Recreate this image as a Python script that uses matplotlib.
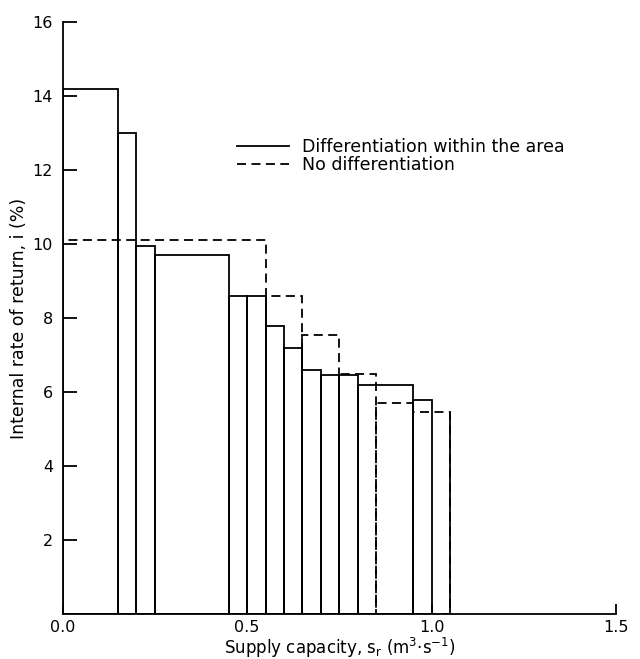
import matplotlib.pyplot as plt
from matplotlib.lines import Line2D

# differentiation within the area: bar left edges, widths, heights (%)
dif_left = [0.0, 0.15, 0.20, 0.25, 0.45, 0.50, 0.55, 0.60, 0.65, 0.70, 0.75, 0.80, 0.95]
dif_width = [0.15, 0.05, 0.05, 0.20, 0.05, 0.05, 0.05, 0.05, 0.05, 0.05, 0.05, 0.15, 0.05]
dif_height = [14.2, 13.0, 9.95, 9.7, 8.6, 8.6, 7.8, 7.2, 6.6, 6.45, 6.45, 6.2, 5.8]

# no differentiation
nd_left = [0.0, 0.55, 0.65, 0.75, 0.85, 0.95]
nd_width = [0.55, 0.10, 0.10, 0.10, 0.10, 0.10]
nd_height = [10.1, 8.6, 7.55, 6.5, 5.7, 5.45]

plt.rcParams['font.family'] = 'DejaVu Sans'
dash = (0, (5, 3))
lw = 1.3

fig = plt.figure(figsize=(6.4, 6.59), dpi=100)
ax = fig.add_axes([0.098, 0.068, 0.8645, 0.8986])

ax.bar(nd_left, nd_height, nd_width, align='edge', fill=False,
       edgecolor='black', linestyle=dash, lw=lw)
ax.bar(dif_left, dif_height, dif_width, align='edge', fill=False,
       edgecolor='black', lw=lw)
ax.vlines(nd_left[-1] + nd_width[-1], 0, nd_height[-1], color='black', lw=lw)

ax.set_xlim(0, 1.5)
ax.set_ylim(0, 16)
ax.set_xticks([0.0, 0.5, 1.0, 1.5])
ax.set_xticklabels(['0.0', '0.5', '1.0', '1.5'])
ax.set_yticks([2, 4, 6, 8, 10, 12, 14, 16])
ax.spines['top'].set_visible(False)
ax.spines['right'].set_visible(False)
ax.spines['left'].set_linewidth(lw)
ax.spines['bottom'].set_linewidth(lw)
ax.tick_params(axis='y', direction='in', length=10, width=lw, labelsize=11.5, pad=7)
ax.tick_params(axis='x', direction='in', length=7, width=lw, labelsize=11.5, pad=4.5)

ax.set_xlabel('Supply capacity, $\\mathregular{s_r}$ (m$\\mathregular{^3}$·s$\\mathregular{^{-1}}$)',
              fontsize=12, labelpad=0)
ax.set_ylabel('Internal rate of return, i (%)', fontsize=12.5, labelpad=3)

handles = [Line2D([], [], color='black', lw=lw),
           Line2D([], [], color='black', lw=lw, linestyle=dash)]
labels = ['Differentiation within the area', 'No differentiation']
ax.legend(handles, labels, loc='upper left', bbox_to_anchor=(0.315, 0.804),
          frameon=False, fontsize=12.5, handlelength=3.0, handletextpad=0.75,
          labelspacing=0.0, borderpad=0, borderaxespad=0)

fig.savefig('out.png', dpi=100)
